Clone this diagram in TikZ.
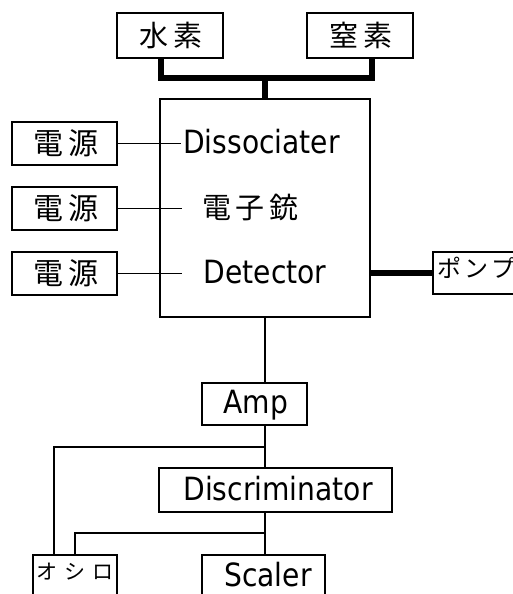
\documentclass[tikz,border=0pt]{standalone}
\usepackage{fontspec}
\setmainfont{DejaVu Sans}[FakeStretch=0.88]
\newfontfamily\cjk{Noto Sans CJK JP}
\begin{document}
\begin{tikzpicture}[x=1pt,y=-1pt,
  box/.style={draw,line width=1.8pt,inner sep=0pt},
  wire/.style={line width=1.8pt},
  thick wire/.style={line width=5.5pt},
  lat/.style={inner sep=0pt,anchor=base,font=\fontsize{32}{36}\selectfont},
  jp/.style={inner sep=0pt,font=\cjk\fontsize{29}{32}\selectfont},
  jps/.style={inner sep=0pt,font=\cjk\fontsize{20}{24}\selectfont}]
\useasboundingbox (0,0) rectangle (513,594);
\clip (0,0) rectangle (513,594);
% gas boxes
\node[box,minimum width=106pt,minimum height=45pt] (h2) at (170,35.5) {};
\node[jp] (h2t) at (171,35.5) {水\hspace{6pt}素};
\node[box,minimum width=106pt,minimum height=45pt] (n2) at (360,35.5) {};
\node[jp] (n2t) at (361,35.5) {窒\hspace{6pt}素};
% main chamber
\node[box,minimum width=210pt,minimum height=218pt] (main) at (265,208) {};
\node[lat] (diss) at (261.5,153.4) {Dissociater};
\node[jp] (gun) at (250.5,207.5) {電\hspace{5pt}子\hspace{5pt}銃};
\node[lat] (det) at (265,283.7) {Detector};
% gas lines
\coordinate (j1) at (161,78);
\coordinate (j2) at (372,78);
\draw[thick wire] (h2.south -| j1) -- (j1) -- (j2) -- (n2.south -| j2);
\draw[thick wire] (main.north |- j1) -- (main.north);
% power supplies
\foreach \i/\y/\e in {1/143.5/181,2/208.5/182,3/273.5/182}{
  \node[box,minimum width=105pt,minimum height=43pt] (ps\i) at (64.5,\y) {};
  \node[jp,font=\cjk\fontsize{30}{32}\selectfont] (ps\i t) at (66,\y) {電\hspace{5pt}源};
  \coordinate (pe\i) at (\e,\y);
  \draw[wire] (ps\i.east) -- (pe\i);
}
% pump
\node[box,minimum width=110pt,minimum height=42pt] (pump) at (488,273) {};
\node[jps,anchor=west,font=\cjk\fontsize{24}{26}\selectfont] (pumpt) at (437,268) {ポ\hspace{3pt}ン\hspace{3pt}プ};
\draw[thick wire] (main.east |- pump.west) -- (pump.west);
% electronics
\node[box,minimum width=105pt,minimum height=42pt] (amp) at (254.5,404) {};
\node[lat] (ampt) at (256,413) {Amp};
\node[box,minimum width=233pt,minimum height=44pt] (disc) at (275.5,490) {};
\node[lat] (disct) at (278,500) {Discriminator};
\node[box,minimum width=84pt,minimum height=60pt] (osc) at (75,585) {};
\node[jps,font=\cjk\fontsize{21}{24}\selectfont] (osct) at (75,572) {オ\hspace{7pt}シ\hspace{7pt}ロ};
\node[box,minimum width=123pt,minimum height=60pt] (scal) at (263.5,585) {};
\node[lat] (scalt) at (268,586.7) {Scaler};
\coordinate (b1) at (265,447);
\coordinate (b2) at (265,533);
\coordinate (o1) at (54,447);
\coordinate (o2) at (75,533);
\draw[wire] (main.south) -- (main.south |- amp.north);
\draw[wire] (main.south |- amp.south) -- (main.south |- disc.north);
\draw[wire] (main.south |- disc.south) -- (main.south |- scal.north);
\draw[wire] (b1) -- (o1) -- (o1 |- osc.north);
\draw[wire] (b2) -- (o2) -- (o2 |- osc.north);
\end{tikzpicture}
\end{document}
